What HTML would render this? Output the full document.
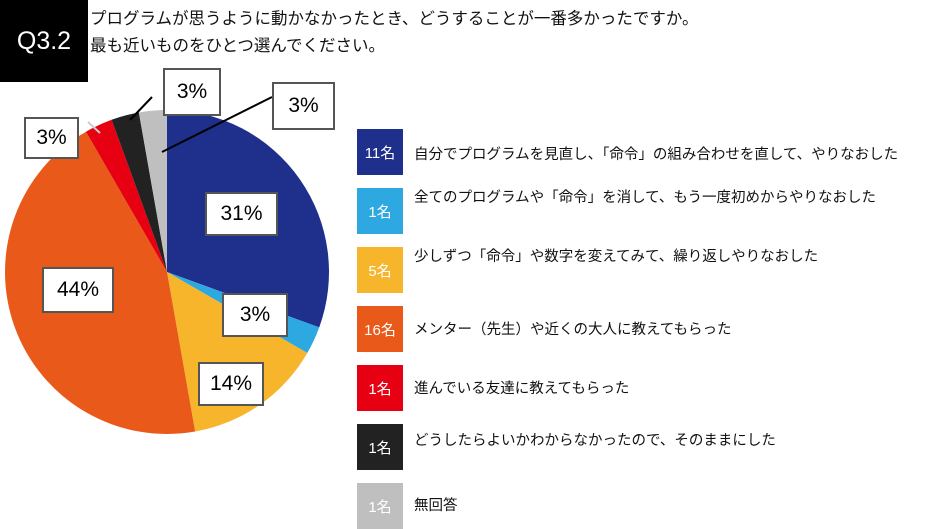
<!DOCTYPE html>
<html><head><meta charset="utf-8">
<style>
body{margin:0;width:949px;height:529px;background:#fff;overflow:hidden;font-family:"Liberation Sans","Noto Sans CJK JP",sans-serif;position:relative}
.abs{position:absolute}
.lbl{position:absolute;background:#fff;border:2px solid #555;font-size:21px;display:flex;align-items:center;justify-content:center;box-sizing:border-box}
.sq{position:absolute;left:357px;width:46px;height:46px;color:#fff;font-size:15px;display:flex;align-items:center;justify-content:center}
.lt{position:absolute;left:414px;font-size:14.5px;color:#111;white-space:nowrap}
</style></head><body>
<div class="abs" style="left:0;top:0;width:88px;height:82px;background:#000;color:#fff;font-size:25px;display:flex;align-items:center;justify-content:center">Q3.2</div>
<div class="abs" style="left:90px;top:6px;font-size:16.5px;line-height:27px;color:#111">プログラムが思うように動かなかったとき、どうすることが一番多かったですか。<br>最も近いものをひとつ選んでください。</div>
<svg class="abs" style="left:0;top:0" width="949" height="529" id="chart"></svg>
<div class="lbl" style="left:205px;top:192px;width:73px;height:44px">31%</div>
<div class="lbl" style="left:222px;top:293px;width:66px;height:44px">3%</div>
<div class="lbl" style="left:198px;top:362px;width:66px;height:44px">14%</div>
<div class="lbl" style="left:42px;top:267px;width:72px;height:46px">44%</div>
<div class="lbl" style="left:24px;top:117px;width:55px;height:42px">3%</div>
<div class="lbl" style="left:163px;top:68px;width:58px;height:48px">3%</div>
<div class="lbl" style="left:272px;top:82px;width:63px;height:48px">3%</div>
<div id="legend"></div>
<script>
const categories=["自分でプログラムを見直し、「命令」の組み合わせを直して、やりなおした","全てのプログラムや「命令」を消して、もう一度初めからやりなおした","少しずつ「命令」や数字を変えてみて、繰り返しやりなおした","メンター（先生）や近くの大人に教えてもらった","進んでいる友達に教えてもらった","どうしたらよいかわからなかったので、そのままにした","無回答"];
const counts=[11,1,5,16,1,1,1];
const colors=["#1f2f8c","#2ea8e0","#f7b52c","#e8591a","#e60012","#222222","#bfbfbf"];
const svg=document.getElementById('chart');const NS="http://www.w3.org/2000/svg";
const cx=167,cy=272,r=162;const total=counts.reduce((a,b)=>a+b,0);
let a0=0;
counts.forEach((v,i)=>{
 const a1=a0+v/total*2*Math.PI;
 const x0=cx+r*Math.sin(a0),y0=cy-r*Math.cos(a0),x1=cx+r*Math.sin(a1),y1=cy-r*Math.cos(a1);
 const p=document.createElementNS(NS,'path');
 p.setAttribute('d',`M${cx},${cy}L${x0},${y0}A${r},${r} 0 ${a1-a0>Math.PI?1:0} 1 ${x1},${y1}Z`);
 p.setAttribute('fill',colors[i]);
 
 
 svg.appendChild(p);a0=a1;});
[[130,120,152,97],[162,152,272,97],[88,122,100,133]].forEach((l,i)=>{
 const ln=document.createElementNS(NS,'line');
 ln.setAttribute('x1',l[0]);ln.setAttribute('y1',l[1]);ln.setAttribute('x2',l[2]);ln.setAttribute('y2',l[3]);
 ln.setAttribute('stroke',i==2?'#ccc':'#000');ln.setAttribute('stroke-width','2');
 
 
 svg.appendChild(ln);});
const leg=document.getElementById('legend');
const tops=[129,188,247,306,365,424,483];const textY=[143,186,245,318,377,429,494];
categories.forEach((c,i)=>{
 const s=document.createElement('div');s.className='sq';s.style.top=tops[i]+'px';s.style.background=colors[i];s.textContent=counts[i]+'名';
 
 
 leg.appendChild(s);
 const t=document.createElement('div');t.className='lt';t.style.top=textY[i]+'px';t.textContent=c;
 
 
 leg.appendChild(t);});
</script>
</body></html>
